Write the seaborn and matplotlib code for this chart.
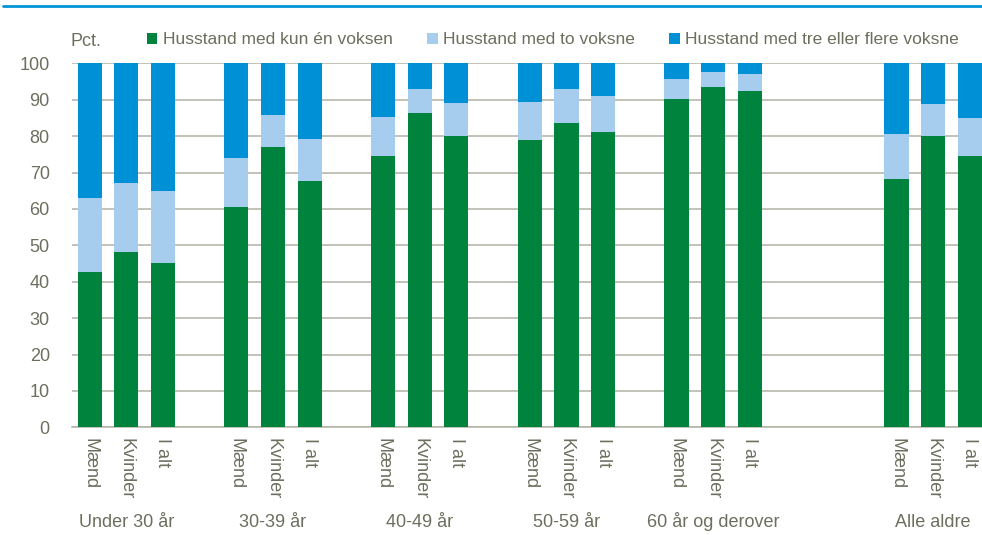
import numpy as np
import pandas as pd
import seaborn as sns
import matplotlib.pyplot as plt
from matplotlib.patches import Patch
from matplotlib.lines import Line2D
import matplotlib.transforms as mtransforms

# data (pct.)
groups = ['Under 30 år', '30-39 år', '40-49 år', '50-59 år', '60 år og derover', 'Alle aldre']
sexes = ['Mænd', 'Kvinder', 'I alt']
en_voksen = [42.7, 48.2, 45.1, 60.5, 77.0, 67.7, 74.5, 86.4, 80.1,
             78.9, 83.6, 81.2, 90.2, 93.5, 92.3, 68.1, 79.9, 74.4]
to_voksne = [20.3, 19.0, 19.8, 13.6, 8.9, 11.5, 10.8, 6.6, 9.0,
             10.4, 9.3, 9.8, 5.5, 4.1, 4.7, 12.5, 8.9, 10.5]
tre_plus = [37.0, 32.8, 35.1, 25.9, 14.1, 20.8, 14.7, 7.0, 10.9,
            10.7, 7.1, 9.0, 4.3, 2.4, 3.0, 19.4, 11.2, 15.1]
series_names = ['Husstand med kun én voksen', 'Husstand med to voksne',
                'Husstand med tre eller flere voksne']
colors = ['#00843D', '#A7CDEE', '#0090D6']

txt_col = '#6D6E5E'
grid_col = '#B2B2A4'

# slot positions: groups of 3 with one empty slot between, extra gap before "Alle aldre"
group_start = [0, 4, 8, 12, 16, 22]
pos = [s + j for s in group_start for j in range(3)]

df = pd.DataFrame({'pos': pos, 'en': en_voksen, 'to': to_voksne, 'tre': tre_plus})
df['c1'] = df['en']
df['c2'] = df['en'] + df['to']
df['c3'] = df['c2'] + df['tre']

sns.set_style('white')
plt.rcParams['font.family'] = ['Liberation Sans Narrow', 'Liberation Sans', 'DejaVu Sans']

fig = plt.figure(figsize=(9.82, 5.35), dpi=100)
ax = fig.add_axes([72 / 982, 1 - 427.3 / 535, 1 - 72 / 982, (427.3 - 63.3) / 535])

for col, c in zip(['c3', 'c2', 'c1'], colors[::-1]):
    sns.barplot(data=df, x='pos', y=col, native_scale=True, width=0.66,
                color=c, saturation=1, edgecolor='none', linewidth=0, ax=ax, zorder=3)

ax.set_xlim(-0.48, 24.33)
ax.set_ylim(0, 100)
ax.set_yticks(range(0, 101, 10))
ax.yaxis.grid(True, color=grid_col, linewidth=1.1, zorder=0)
ax.set_axisbelow(True)
for s in ['left', 'right', 'top']:
    ax.spines[s].set_visible(False)
ax.spines['bottom'].set_color(grid_col)
ax.spines['bottom'].set_linewidth(1.1)
ax.set_xlabel('')
ax.set_ylabel('')
ax.tick_params(axis='y', length=0, pad=16, labelsize=13, labelcolor=txt_col)
ax.set_xticks(pos)
ax.set_xticklabels(sexes * len(groups), rotation=270, va='top', ha='center')
ax.tick_params(axis='x', length=0, pad=8, labelsize=13, labelcolor=txt_col)

trans = mtransforms.blended_transform_factory(ax.transData, fig.transFigure)
for g, s in zip(groups, group_start):
    ax.text(s + 1, 1 - 527 / 535, g, transform=trans, ha='center', va='baseline',
            fontsize=13, color=txt_col)

fig.text(70 / 982, 1 - 41 / 535, 'Pct.', ha='left', va='center', fontsize=13, color=txt_col)

handles = [Patch(facecolor=c, edgecolor='none') for c in colors]
leg = fig.legend(handles, series_names, loc='center left', ncol=3,
                 bbox_to_anchor=(147 / 982, 1 - 40 / 535), frameon=False,
                 handlelength=0.6, handleheight=0.6, handletextpad=0.3,
                 columnspacing=2.0, fontsize=12.5, borderaxespad=0, borderpad=0)
for t in leg.get_texts():
    t.set_color(txt_col)

fig.add_artist(Line2D([0.003, 1.0], [1 - 5.5 / 535, 1 - 5.5 / 535], color='#0094D6', linewidth=2))

fig.savefig('out.png', dpi=100)
